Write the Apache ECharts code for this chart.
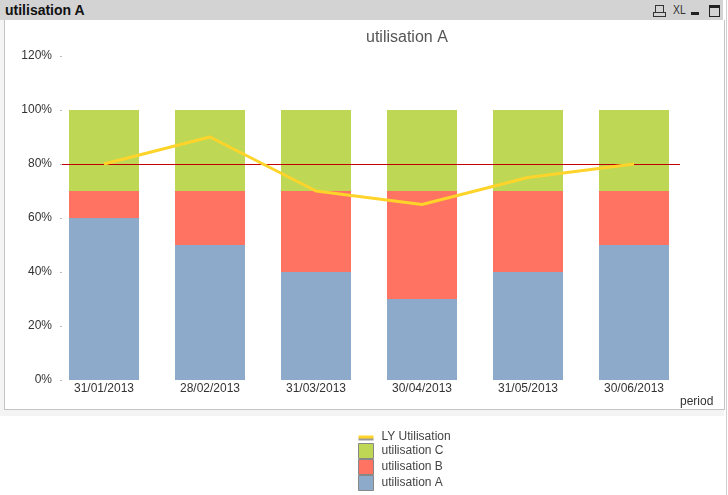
<!DOCTYPE html>
<html>
<head>
<meta charset="utf-8">
<script src="https://cdn.jsdelivr.net/npm/echarts@6/dist/echarts.min.js"></script>
<style>
html,body{margin:0;padding:0;background:#fff;width:728px;height:495px;overflow:hidden;font-family:"Liberation Sans",Arial,sans-serif;}
#bar{position:absolute;left:0;top:0;width:723px;height:20px;background:#d3d3d3;}
#bar .t{position:absolute;left:5px;top:2px;font-weight:bold;font-size:14px;color:#111;}
#edge{position:absolute;left:726px;top:0;width:1px;height:495px;background:#d0d0d0;}
#frame{position:absolute;left:0;top:20px;width:724px;height:396px;background:#f4f4f4;}
#panel{position:absolute;left:4px;top:20px;width:719px;height:389px;background:#fff;border-left:1px solid #c4c4c4;border-right:1px solid #c4c4c4;border-bottom:1px solid #c4c4c4;}
#chart{position:absolute;left:0;top:0;width:728px;height:495px;}
.ic{position:absolute;}
</style>
</head>
<body>
<div id="bar"><span class="t">utilisation A</span>
  <div class="ic" style="left:655px;top:5px;width:7px;height:6px;border:1px solid #333;border-bottom:none;"></div>
  <div class="ic" style="left:653px;top:12px;width:11px;height:3px;border:1px solid #333;"></div>
  <div class="ic" style="left:673px;top:2px;font-size:13px;color:#333;transform:scaleX(0.8);transform-origin:left;">XL</div>
  <div class="ic" style="left:691px;top:12px;width:8px;height:3px;background:#222;"></div>
  <div class="ic" style="left:709px;top:5px;width:9px;height:8px;border:1px solid #222;border-top:3px solid #222;"></div>
</div>
<div id="edge"></div>
<div id="frame"></div>
<div id="panel"></div>
<div id="chart"></div>
<script>
var categories = ['31/01/2013','28/02/2013','31/03/2013','30/04/2013','31/05/2013','30/06/2013'];
var utilA = [60, 50, 40, 30, 40, 50];
var utilB = [10, 20, 30, 40, 30, 20];
var utilC = [30, 30, 30, 30, 30, 30];
var lyUtil = [80, 90, 70, 65, 75, 80];
var targetLine = 80;

var chart = echarts.init(document.getElementById('chart'), null, {renderer:'canvas'});
var txt = '#333';
chart.setOption({
  backgroundColor: 'transparent',
  animation: false,
  title: {
    text: 'utilisation A', left: 361, top: 25,
    textStyle: {fontSize: 16, fontWeight: 'normal', color: '#555', fontFamily: 'Liberation Sans'}
  },
  grid: {left: 51, right: 41, top: 56, bottom: 115, containLabel: false},
  legend: {
    orient: 'vertical', left: 358, top: 431, padding: 0, height: 64, itemWidth: 15, itemHeight: 15, itemGap: 0,
    textStyle: {fontSize: 12, color: '#444', fontFamily: 'Liberation Sans', padding: [0,0,0,3]},
    data: [
      {name: 'LY Utilisation', icon: 'path://M0,0H15V3H0Z', itemStyle: {color: '#FFD42A', borderWidth: 0, shadowColor: '#999', shadowOffsetY: 2, shadowBlur: 0}},
      {name: 'utilisation C', icon: 'rect', itemStyle: {borderColor: '#888', borderWidth: 1}},
      {name: 'utilisation B', icon: 'rect', itemStyle: {borderColor: '#888', borderWidth: 1}},
      {name: 'utilisation A', icon: 'rect', itemStyle: {borderColor: '#888', borderWidth: 1}}
    ]
  },
  xAxis: {
    type: 'category', data: categories,
    axisLine: {show: false}, axisTick: {show: false},
    axisLabel: {fontSize: 12, color: txt, margin: 3, fontFamily: 'Liberation Sans'},
    splitLine: {show: false}
  },
  yAxis: {
    type: 'value', min: 0, max: 120, interval: 20, offset: -11,
    axisLine: {show: false},
    axisTick: {show: true, length: 2, lineStyle: {color: '#bbb'}},
    axisLabel: {formatter: '{value}%', fontSize: 12, color: txt, margin: 10, padding: [4,0,0,0], fontFamily: 'Liberation Sans'},
    splitLine: {show: false}
  },
  graphic: [
    {type: 'text', left: 680, top: 396, style: {text: 'period', fontSize: 12, fill: txt, fontFamily: 'Liberation Sans'}}
  ],
  series: [
    {name: 'utilisation A', type: 'bar', stack: 's', barWidth: 70, data: utilA, itemStyle: {color: '#8DAACB'}},
    {name: 'utilisation B', type: 'bar', stack: 's', barWidth: 70, data: utilB, itemStyle: {color: '#FF7362'}},
    {name: 'utilisation C', type: 'bar', stack: 's', barWidth: 70, data: utilC, itemStyle: {color: '#BED755'}},
    {name: 'LY Utilisation', type: 'line', data: lyUtil, symbol: 'none', z: 5,
     lineStyle: {color: '#FFD42A', width: 3}, itemStyle: {color: '#FFD42A'},
     markLine: {
       silent: true, symbol: 'none', label: {show: false}, animation: false,
       lineStyle: {color: '#c00000', width: 1, type: 'solid'},
       data: [[{x: 62, yAxis: targetLine}, {x: 680, yAxis: targetLine}]]
     }
    }
  ]
});
</script>
</body>
</html>
